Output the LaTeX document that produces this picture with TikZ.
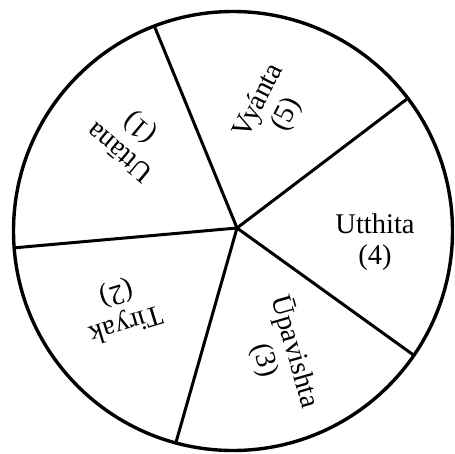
\documentclass[tikz,border=0pt]{standalone}
\usepackage{fontspec}
\setmainfont{Liberation Serif}
\usetikzlibrary{calc}
\begin{document}
\begin{tikzpicture}[x=1pt,y=-1pt,
  rim/.style={line width=3.4pt},
  spoke/.style={line width=3pt},
  lbl/.style={font=\fontsize{28.5}{31}\selectfont, align=center, inner sep=0pt}]
\useasboundingbox (0,0) rectangle (455,453);
\coordinate (o) at (233,231);
\coordinate (c) at (237,228);
\coordinate (e1) at ($(o)+(105.1:219.5)$);
\coordinate (e2) at ($(o)+(34.5:219.5)$);
\coordinate (e3) at ($(o)+(-37.2:219.5)$);
\coordinate (e4) at ($(o)+(-111:219.5)$);
\coordinate (e5) at ($(o)+(175.6:219.5)$);
\draw[spoke] (c) -- (e1);
\draw[spoke] (c) -- (e2);
\draw[spoke] (c) -- (e3);
\draw[spoke] (c) -- (e4);
\draw[spoke] (c) -- (e5);
\draw[rim] (o) circle[radius=219.5];
\node[lbl, rotate=140] (uttana) at (131,139) {Uttāna\\(1)};
\node[lbl, rotate=63] (vyanta) at (273,108) {Vyánta\\(5)};
\node[lbl] (utthita) at (375,242) {Utthita\\(4)};
\node[lbl, rotate=-74] (upavishta) at (280,356) {Ūpavishta\\(3)};
\node[lbl, rotate=197] (tiryak) at (121,308) {Tiryak\\(2)};
\end{tikzpicture}
\end{document}
